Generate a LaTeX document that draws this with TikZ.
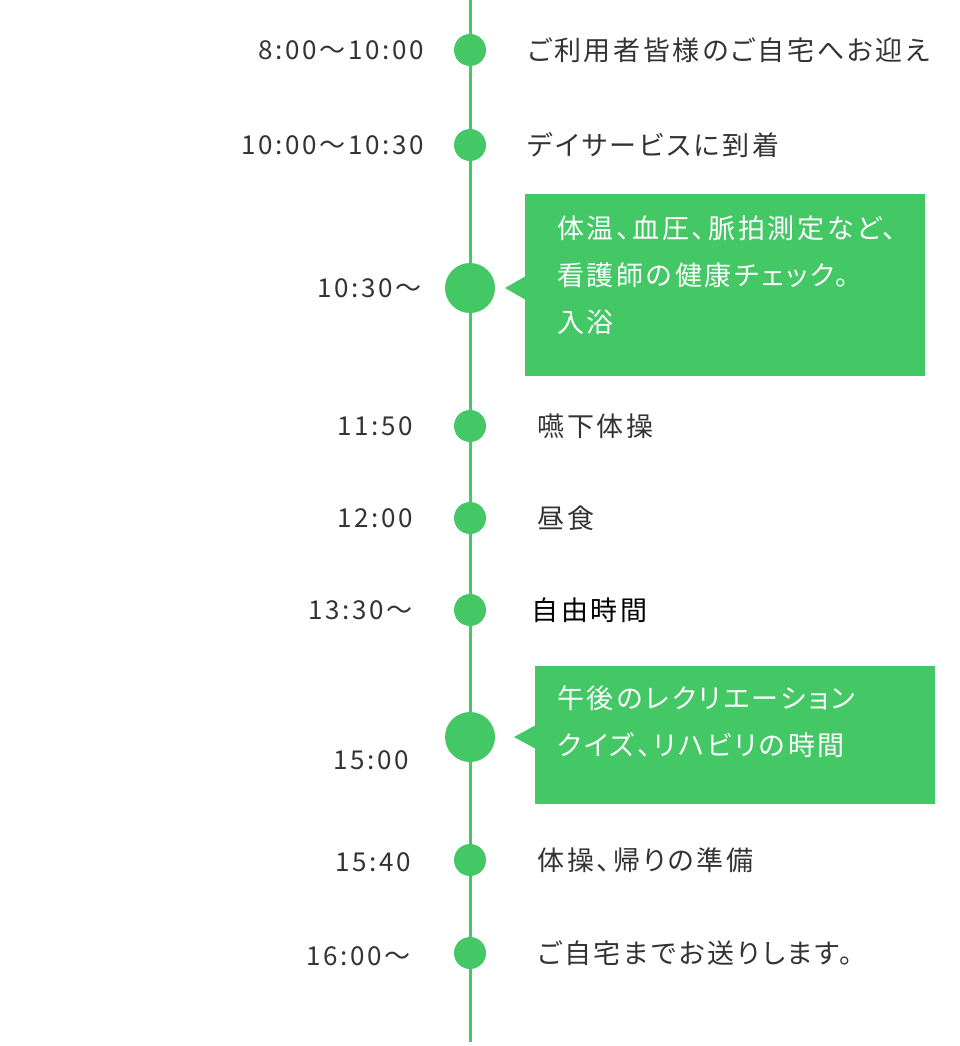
\documentclass[tikz,border=0pt]{standalone}
\usepackage{fontspec}
\setmainfont{Noto Sans CJK JP}[RawFeature=+palt,LetterSpace=10]
\definecolor{tg}{HTML}{44C866}
\definecolor{tx}{HTML}{333333}
\begin{document}
\begin{tikzpicture}[x=1pt,y=-1pt,
 dot/.style={circle,fill=tg,inner sep=0,minimum size=32pt},
 bigdot/.style={circle,fill=tg,inner sep=0,minimum size=50pt},
 tm/.style={anchor=east,text=tx,font=\fontsize{26}{30}\selectfont},
 lb/.style={anchor=west,text=tx,font=\fontsize{27}{30}\selectfont},
 bx/.style={anchor=north west,text=white,inner sep=0,font=\fontsize{27}{47}\selectfont,align=left}]
\useasboundingbox (0,0) rectangle (960,1046);
\coordinate (top) at (470,0); \coordinate (bot) at (470,1042);
\draw[tg,line width=3pt] (top) -- (bot);
\node[dot] (d1) at (470,50) {}; \node[tm] at (427,50) {8:00〜10:00}; \node[lb] at (524,50) {ご利用者皆様のご自宅へお迎え};
\node[dot] (d2) at (470,145) {}; \node[tm] at (427,145) {10:00〜10:30}; \node[lb] at (524,145) {デイサービスに到着};
\node[bigdot] (d3) at (470,288) {}; \node[tm] at (425,288) {10:30〜};
\fill[tg] (525,194) rectangle (925,376); \fill[tg] (505,288) -- (526,276) -- (526,300) -- cycle;
\node[bx,text width=360pt] (b1) at (557,216) {体温、血圧、脈拍測定など、\\看護師の健康チェック。\\入浴};
\node[dot] (d4) at (470,426) {}; \node[tm] at (416,426) {11:50}; \node[lb] at (534,426) {嚥下体操};
\node[dot] (d5) at (470,518) {}; \node[tm] at (416,518) {12:00}; \node[lb] at (534,518) {昼食};
\node[dot] (d6) at (470,610) {}; \node[tm] at (416,610) {13:30〜}; \node[lb,text=black] at (528,610) {自由時間};
\node[bigdot] (d7) at (470,737) {}; \node[tm] at (412,760) {15:00};
\fill[tg] (535,666) rectangle (935,804); \fill[tg] (514,737) -- (536,725) -- (536,749) -- cycle;
\node[bx,text width=360pt] (b2) at (557,686) {午後のレクリエーション\\クイズ、リハビリの時間};
\node[dot] (d8) at (470,860) {}; \node[tm] at (414,862) {15:40}; \node[lb] at (534,860) {体操、帰りの準備};
\node[dot] (d9) at (470,953) {}; \node[tm] at (414,956) {16:00〜}; \node[lb] at (534,953) {ご自宅までお送りします。};
\end{tikzpicture}
\end{document}
